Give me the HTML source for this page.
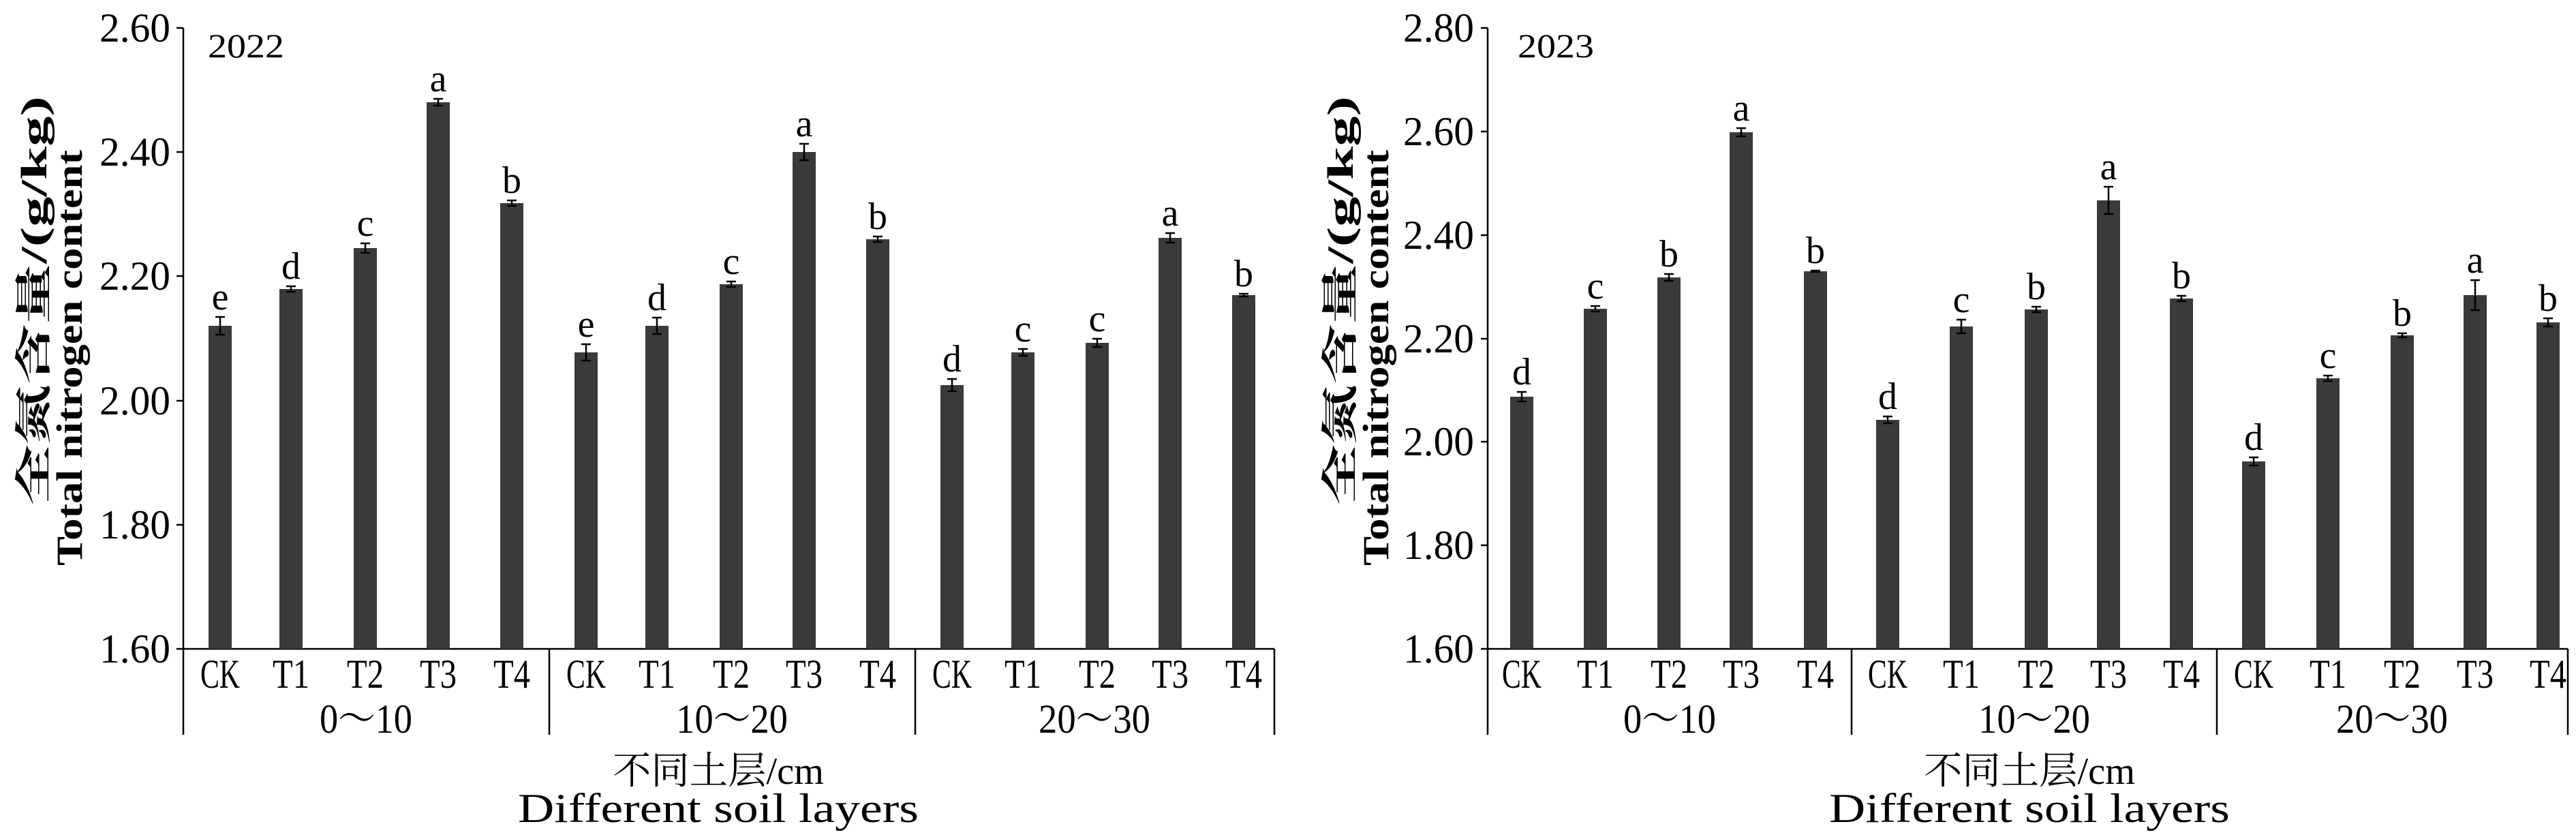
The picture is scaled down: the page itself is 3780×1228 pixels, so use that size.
<!DOCTYPE html>
<html><head><meta charset="utf-8"><style>
html,body{margin:0;padding:0;background:#fff}
svg{display:block}
text{font-family:"Liberation Serif","Noto Serif CJK SC",serif;fill:#000}
.t{font-size:60px}
.l{font-size:56px}
</style></head><body>
<svg width="3780" height="1228" viewBox="0 0 3780 1228" xmlns="http://www.w3.org/2000/svg">
<g stroke="#000" stroke-width="2.5" fill="none">
<line x1="269" y1="41" x2="269" y2="1078"/>
<line x1="269" y1="952" x2="1870" y2="952"/>
<line x1="806" y1="952" x2="806" y2="1078"/>
<line x1="1343" y1="952" x2="1343" y2="1078"/>
<line x1="1870" y1="952" x2="1870" y2="1078"/>
<line x1="259" y1="41" x2="269" y2="41"/><line x1="259" y1="223" x2="269" y2="223"/><line x1="259" y1="405" x2="269" y2="405"/><line x1="259" y1="588" x2="269" y2="588"/><line x1="259" y1="770" x2="269" y2="770"/><line x1="259" y1="952" x2="269" y2="952"/>
<line x1="2183" y1="41" x2="2183" y2="1078"/>
<line x1="2183" y1="952" x2="3768" y2="952"/>
<line x1="2717" y1="952" x2="2717" y2="1078"/>
<line x1="3253" y1="952" x2="3253" y2="1078"/>
<line x1="3768" y1="952" x2="3768" y2="1078"/>
<line x1="2173" y1="41" x2="2183" y2="41"/><line x1="2173" y1="193" x2="2183" y2="193"/><line x1="2173" y1="345" x2="2183" y2="345"/><line x1="2173" y1="497" x2="2183" y2="497"/><line x1="2173" y1="648" x2="2183" y2="648"/><line x1="2173" y1="800" x2="2183" y2="800"/><line x1="2173" y1="952" x2="2183" y2="952"/>
</g>
<g fill="#3a3a3a">
<rect x="306" y="478" width="34" height="474"/><rect x="410" y="424" width="34" height="528"/><rect x="519" y="364" width="34" height="588"/><rect x="626" y="150" width="34" height="802"/><rect x="734" y="298" width="34" height="654"/>
<rect x="843" y="517" width="34" height="435"/><rect x="947" y="478" width="34" height="474"/><rect x="1056" y="417" width="34" height="535"/><rect x="1163" y="223" width="34" height="729"/><rect x="1271" y="351" width="34" height="601"/>
<rect x="1380" y="565" width="34" height="387"/><rect x="1484" y="517" width="34" height="435"/><rect x="1593" y="503" width="34" height="449"/><rect x="1700" y="349" width="34" height="603"/><rect x="1808" y="433" width="34" height="519"/>
<rect x="2216" y="582" width="34" height="370"/><rect x="2324" y="453" width="34" height="499"/><rect x="2432" y="407" width="34" height="545"/><rect x="2538" y="194" width="34" height="758"/><rect x="2647" y="398" width="34" height="554"/>
<rect x="2753" y="616" width="34" height="336"/><rect x="2861" y="479" width="34" height="473"/><rect x="2971" y="454" width="34" height="498"/><rect x="3077" y="294" width="34" height="658"/><rect x="3184" y="438" width="34" height="514"/>
<rect x="3290" y="677" width="34" height="275"/><rect x="3399" y="555" width="34" height="397"/><rect x="3508" y="492" width="34" height="460"/><rect x="3615" y="433" width="34" height="519"/><rect x="3722" y="473" width="34" height="479"/>
</g>
<g stroke="#000" stroke-width="2.5">
<path d="M323 465V491M316 465H330M316 491H330"/>
<path d="M427 420V428M420 420H434M420 428H434"/>
<path d="M536 357V371M529 357H543M529 371H543"/>
<path d="M643 145V155M636 145H650M636 155H650"/>
<path d="M751 294V302M744 294H758M744 302H758"/>
<path d="M860 505V529M853 505H867M853 529H867"/>
<path d="M964 466V490M957 466H971M957 490H971"/>
<path d="M1073 413V421M1066 413H1080M1066 421H1080"/>
<path d="M1180 211V235M1173 211H1187M1173 235H1187"/>
<path d="M1288 347V355M1281 347H1295M1281 355H1295"/>
<path d="M1397 556V574M1390 556H1404M1390 574H1404"/>
<path d="M1501 512V522M1494 512H1508M1494 522H1508"/>
<path d="M1610 497V509M1603 497H1617M1603 509H1617"/>
<path d="M1717 342V356M1710 342H1724M1710 356H1724"/>
<path d="M1825 431V435M1818 431H1832M1818 435H1832"/>
<path d="M2233 575V589M2226 575H2240M2226 589H2240"/>
<path d="M2341 449V457M2334 449H2348M2334 457H2348"/>
<path d="M2449 402V412M2442 402H2456M2442 412H2456"/>
<path d="M2555 188V200M2548 188H2562M2548 200H2562"/>
<path d="M2664 397V399M2657 397H2671M2657 399H2671"/>
<path d="M2770 611V621M2763 611H2777M2763 621H2777"/>
<path d="M2878 469V489M2871 469H2885M2871 489H2885"/>
<path d="M2988 450V458M2981 450H2995M2981 458H2995"/>
<path d="M3094 274V314M3087 274H3101M3087 314H3101"/>
<path d="M3201 434V442M3194 434H3208M3194 442H3208"/>
<path d="M3307 671V683M3300 671H3314M3300 683H3314"/>
<path d="M3416 551V559M3409 551H3423M3409 559H3423"/>
<path d="M3525 489V495M3518 489H3532M3518 495H3532"/>
<path d="M3632 411V455M3625 411H3639M3625 455H3639"/>
<path d="M3739 467V479M3732 467H3746M3732 479H3746"/>
</g>
<g class="l" text-anchor="middle">
<text x="323" y="454">e</text><text x="427" y="409">d</text><text x="536" y="346">c</text><text x="643" y="134">a</text><text x="751" y="283">b</text>
<text x="860" y="494">e</text><text x="964" y="455">d</text><text x="1073" y="402">c</text><text x="1180" y="200">a</text><text x="1288" y="336">b</text>
<text x="1397" y="545">d</text><text x="1501" y="501">c</text><text x="1610" y="486">c</text><text x="1717" y="331">a</text><text x="1825" y="420">b</text>
<text x="2233" y="564">d</text><text x="2341" y="438">c</text><text x="2449" y="391">b</text><text x="2555" y="177">a</text><text x="2664" y="386">b</text>
<text x="2770" y="600">d</text><text x="2878" y="458">c</text><text x="2988" y="439">b</text><text x="3094" y="263">a</text><text x="3201" y="423">b</text>
<text x="3307" y="660">d</text><text x="3416" y="540">c</text><text x="3525" y="478">b</text><text x="3632" y="400">a</text><text x="3739" y="456">b</text>
</g>
<text x="305" y="84" style="font-size:50px" textLength="112" lengthAdjust="spacingAndGlyphs">2022</text>
<text x="2227" y="84" style="font-size:50px" textLength="112" lengthAdjust="spacingAndGlyphs">2023</text>
<g class="t" text-anchor="end">
<text x="250" y="61" textLength="104" lengthAdjust="spacingAndGlyphs">2.60</text>
<text x="250" y="243" textLength="104" lengthAdjust="spacingAndGlyphs">2.40</text>
<text x="250" y="425" textLength="104" lengthAdjust="spacingAndGlyphs">2.20</text>
<text x="250" y="608" textLength="104" lengthAdjust="spacingAndGlyphs">2.00</text>
<text x="250" y="790" textLength="104" lengthAdjust="spacingAndGlyphs">1.80</text>
<text x="250" y="972" textLength="104" lengthAdjust="spacingAndGlyphs">1.60</text>
<text x="2163" y="61" textLength="104" lengthAdjust="spacingAndGlyphs">2.80</text>
<text x="2163" y="213" textLength="104" lengthAdjust="spacingAndGlyphs">2.60</text>
<text x="2163" y="365" textLength="104" lengthAdjust="spacingAndGlyphs">2.40</text>
<text x="2163" y="517" textLength="104" lengthAdjust="spacingAndGlyphs">2.20</text>
<text x="2163" y="668" textLength="104" lengthAdjust="spacingAndGlyphs">2.00</text>
<text x="2163" y="820" textLength="104" lengthAdjust="spacingAndGlyphs">1.80</text>
<text x="2163" y="972" textLength="104" lengthAdjust="spacingAndGlyphs">1.60</text>
</g>
<g class="t" text-anchor="middle">
<text x="323" y="1009" textLength="58" lengthAdjust="spacingAndGlyphs">CK</text><text x="427" y="1009" textLength="54" lengthAdjust="spacingAndGlyphs">T1</text><text x="536" y="1009" textLength="54" lengthAdjust="spacingAndGlyphs">T2</text><text x="643" y="1009" textLength="54" lengthAdjust="spacingAndGlyphs">T3</text><text x="751" y="1009" textLength="54" lengthAdjust="spacingAndGlyphs">T4</text>
<text x="860" y="1009" textLength="58" lengthAdjust="spacingAndGlyphs">CK</text><text x="964" y="1009" textLength="54" lengthAdjust="spacingAndGlyphs">T1</text><text x="1073" y="1009" textLength="54" lengthAdjust="spacingAndGlyphs">T2</text><text x="1180" y="1009" textLength="54" lengthAdjust="spacingAndGlyphs">T3</text><text x="1288" y="1009" textLength="54" lengthAdjust="spacingAndGlyphs">T4</text>
<text x="1397" y="1009" textLength="58" lengthAdjust="spacingAndGlyphs">CK</text><text x="1501" y="1009" textLength="54" lengthAdjust="spacingAndGlyphs">T1</text><text x="1610" y="1009" textLength="54" lengthAdjust="spacingAndGlyphs">T2</text><text x="1717" y="1009" textLength="54" lengthAdjust="spacingAndGlyphs">T3</text><text x="1825" y="1009" textLength="54" lengthAdjust="spacingAndGlyphs">T4</text>
<text x="2233" y="1009" textLength="58" lengthAdjust="spacingAndGlyphs">CK</text><text x="2341" y="1009" textLength="54" lengthAdjust="spacingAndGlyphs">T1</text><text x="2449" y="1009" textLength="54" lengthAdjust="spacingAndGlyphs">T2</text><text x="2555" y="1009" textLength="54" lengthAdjust="spacingAndGlyphs">T3</text><text x="2664" y="1009" textLength="54" lengthAdjust="spacingAndGlyphs">T4</text>
<text x="2770" y="1009" textLength="58" lengthAdjust="spacingAndGlyphs">CK</text><text x="2878" y="1009" textLength="54" lengthAdjust="spacingAndGlyphs">T1</text><text x="2988" y="1009" textLength="54" lengthAdjust="spacingAndGlyphs">T2</text><text x="3094" y="1009" textLength="54" lengthAdjust="spacingAndGlyphs">T3</text><text x="3201" y="1009" textLength="54" lengthAdjust="spacingAndGlyphs">T4</text>
<text x="3307" y="1009" textLength="58" lengthAdjust="spacingAndGlyphs">CK</text><text x="3416" y="1009" textLength="54" lengthAdjust="spacingAndGlyphs">T1</text><text x="3525" y="1009" textLength="54" lengthAdjust="spacingAndGlyphs">T2</text><text x="3632" y="1009" textLength="54" lengthAdjust="spacingAndGlyphs">T3</text><text x="3739" y="1009" textLength="54" lengthAdjust="spacingAndGlyphs">T4</text>
<text x="537" y="1075" textLength="136" lengthAdjust="spacingAndGlyphs">0～10</text><text x="1074" y="1075" textLength="164" lengthAdjust="spacingAndGlyphs">10～20</text><text x="1606" y="1075" textLength="164" lengthAdjust="spacingAndGlyphs">20～30</text>
<text x="2450" y="1075" textLength="136" lengthAdjust="spacingAndGlyphs">0～10</text><text x="2985" y="1075" textLength="164" lengthAdjust="spacingAndGlyphs">10～20</text><text x="3510" y="1075" textLength="164" lengthAdjust="spacingAndGlyphs">20～30</text>
<text x="1054" y="1150" style="font-size:56px" textLength="310" lengthAdjust="spacingAndGlyphs">不同土层/cm</text>
<text x="1054" y="1206" textLength="588" lengthAdjust="spacingAndGlyphs">Different soil layers</text>
<text x="2978" y="1150" style="font-size:56px" textLength="310" lengthAdjust="spacingAndGlyphs">不同土层/cm</text>
<text x="2978" y="1206" textLength="588" lengthAdjust="spacingAndGlyphs">Different soil layers</text>
</g>
<g text-anchor="middle" style="font-size:54px;font-weight:bold">
<text transform="translate(68,441) rotate(-90)" textLength="600" lengthAdjust="spacingAndGlyphs">全氮含量/(g/kg)</text>
<text transform="translate(120,525) rotate(-90)" textLength="610" lengthAdjust="spacingAndGlyphs">Total nitrogen content</text>
<text transform="translate(1985,441) rotate(-90)" textLength="600" lengthAdjust="spacingAndGlyphs">全氮含量/(g/kg)</text>
<text transform="translate(2037,525) rotate(-90)" textLength="610" lengthAdjust="spacingAndGlyphs">Total nitrogen content</text>
</g>
</svg>
</body></html>
